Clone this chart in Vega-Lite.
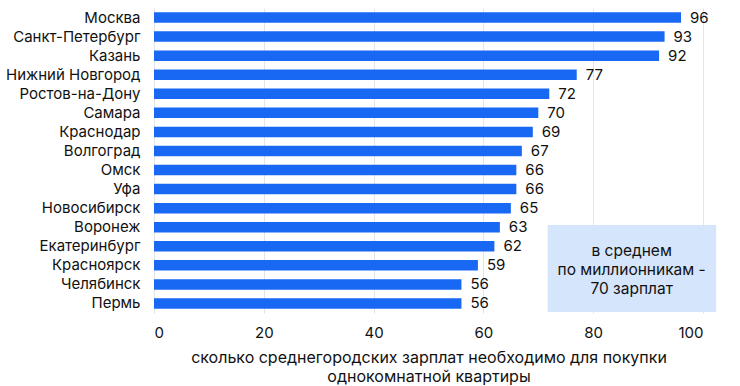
{
  "$schema": "https://vega.github.io/schema/vega-lite/v6.json",
  "width": 549,
  "height": 305,
  "autosize": "none",
  "padding": {"left": 154, "top": 8, "right": 37, "bottom": 73},
  "config": {
    "view": {"stroke": null},
    "font": "Inter",
    "text": {"font": "Inter"}
  },
  "datasets": {
    "cities": [
      {"city": "Москва", "value": 96},
      {"city": "Санкт-Петербург", "value": 93},
      {"city": "Казань", "value": 92},
      {"city": "Нижний Новгород", "value": 77},
      {"city": "Ростов-на-Дону", "value": 72},
      {"city": "Самара", "value": 70},
      {"city": "Краснодар", "value": 69},
      {"city": "Волгоград", "value": 67},
      {"city": "Омск", "value": 66},
      {"city": "Уфа", "value": 66},
      {"city": "Новосибирск", "value": 65},
      {"city": "Воронеж", "value": 63},
      {"city": "Екатеринбург", "value": 62},
      {"city": "Красноярск", "value": 59},
      {"city": "Челябинск", "value": 56},
      {"city": "Пермь", "value": 56}
    ],
    "note": [
      {"x1": 71.7, "x2": 102.4, "y1": 11.38, "y2": 15.95, "tx": 87.0, "ty": 12.75, "label": "в среднем\nпо миллионникам -\n70 зарплат"}
    ]
  },
  "layer": [
    {
      "data": {"name": "cities"},
      "encoding": {
        "y": {
          "field": "city",
          "type": "nominal",
          "sort": null,
          "scale": {"paddingInner": 0.45, "paddingOuter": 0.225},
          "axis": {
            "title": null,
            "ticks": false,
            "domain": false,
            "grid": false,
            "labelPadding": 14,
            "labelFontSize": 15,
            "labelColor": "#111111",
            "labelFont": "Inter"
          }
        },
        "x": {
          "field": "value",
          "type": "quantitative",
          "scale": {"domain": [0, 100], "nice": false},
          "axis": {
            "values": [0, 20, 40, 60, 80, 100],
            "grid": true,
            "gridColor": "#e4e4e4",
            "ticks": false,
            "domain": false,
            "labelPadding": 12,
            "labelFontSize": 15,
            "labelColor": "#111111",
            "labelFont": "Inter",
            "title": ["сколько среднегородских зарплат необходимо для покупки", "однокомнатной квартиры"],
            "titleFontSize": 16,
            "titleFontWeight": "normal",
            "titleColor": "#111111",
            "titleFont": "Inter",
            "titlePadding": 9,
            "titleLineHeight": 19
          }
        }
      },
      "layer": [
        {"mark": {"type": "bar", "color": "#1868f4"}},
        {
          "mark": {"type": "text", "align": "left", "baseline": "middle", "dx": 9, "fontSize": 15, "color": "#111111"},
          "encoding": {"text": {"field": "value", "type": "quantitative"}}
        }
      ]
    },
    {
      "data": {"name": "note"},
      "encoding": {
        "x": {"field": "x1", "type": "quantitative"}
      },
      "layer": [
        {
          "mark": {"type": "rect", "color": "#d5e5fb", "clip": false},
          "encoding": {
            "x": {"field": "x1", "type": "quantitative"},
            "x2": {"field": "x2"},
            "y": {"field": "y1", "type": "quantitative", "scale": {"domain": [0, 16], "reverse": true, "nice": false, "zero": false}, "axis": null},
            "y2": {"field": "y2"}
          }
        },
        {
          "mark": {"type": "text", "align": "center", "baseline": "middle", "lineBreak": "\n", "lineHeight": 19, "fontSize": 15.5, "color": "#111111"},
          "encoding": {
            "x": {"field": "tx", "type": "quantitative"},
            "y": {"field": "ty", "type": "quantitative", "scale": {"domain": [0, 16], "reverse": true, "nice": false, "zero": false}, "axis": null},
            "text": {"field": "label"}
          }
        }
      ]
    }
  ],
  "resolve": {"scale": {"y": "independent"}}
}
